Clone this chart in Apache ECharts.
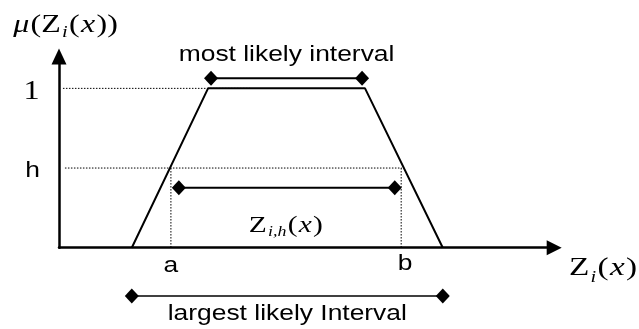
<!DOCTYPE html>
<html>
<head>
<meta charset="utf-8">
<script src="https://cdn.jsdelivr.net/npm/echarts@6/dist/echarts.min.js"></script>
<style>
  html, body {margin: 0; padding: 0; background: #fff;}
  #main {width: 639px; height: 329px;}
</style>
</head>
<body>
<div id="main"></div>
<script>
// trapezoidal membership function, x in 0..100, membership in 0..1.2
var trapX = [14.7, 30.1, 61.8, 77.5];
var trapY = [0, 1, 1, 0];
var hLevel = 0.5;
var cutX = [22.6, 69.1];          // a, b
var oneGuideX = [0.8, 38.6];      // dotted line at membership 1
var hGuideX = [1.2, 69.2];        // dotted line at h
var mostLikelyX = [30.7, 61.2];
var mostLikelyY = 1.063;
var alphaCutX = [24.2, 67.8];
var alphaCutY = 0.376;
var largestX = [14.7, 77.5];
var largestY = 0.5;

var serif = '"Liberation Serif", "Times New Roman", serif';
var sans = '"Liberation Sans", Arial, Helvetica, sans-serif';
var stretch = 1.28;   // the original figure is a bit wide
var sansStretch = 1.2;

function pts(xs, ys) {
    return xs.map(function (x, i) { return [x, ys[i]]; });
}

var dotted = {color: '#000', width: 1, type: [1.5, 1.5]};

var chart = echarts.init(document.getElementById('main'));
var option = {
    animation: false,
    backgroundColor: '#fff',
    grid: [
        {left: 59, top: 56.5, width: 495.2, height: 191.2},
        {left: 59, top: 286, width: 495.2, height: 20}
    ],
    xAxis: [
        {
            gridIndex: 0, type: 'value', min: 0, max: 100,
            axisLine: {lineStyle: {color: '#000', width: 2.5}, symbol: ['none', 'triangle'], symbolSize: [15, 15]},
            axisTick: {show: false}, axisLabel: {show: false}, splitLine: {show: false}
        },
        {
            gridIndex: 1, type: 'value', min: 0, max: 100, show: false
        }
    ],
    yAxis: [
        {
            gridIndex: 0, type: 'value', min: 0, max: 1.2,
            axisLine: {show: true, lineStyle: {color: '#000', width: 2.5}, symbol: ['none', 'triangle'], symbolSize: [15, 16]},
            axisTick: {show: false}, axisLabel: {show: false}, splitLine: {show: false}
        },
        {
            gridIndex: 1, type: 'value', min: 0, max: 1, show: false
        }
    ],
    series: [
        {
            name: 'membership', type: 'line', data: pts(trapX, trapY),
            symbol: 'none', lineStyle: {color: '#000', width: 2}, clip: false, z: 3
        },
        {
            name: 'one guide', type: 'line', symbol: 'none', lineStyle: dotted,
            data: pts(oneGuideX, [1, 1]), z: 2
        },
        {
            name: 'h guide', type: 'line', symbol: 'none', lineStyle: dotted,
            data: pts(hGuideX, [hLevel, hLevel]), z: 2
        },
        {
            name: 'a guide', type: 'line', symbol: 'none', lineStyle: dotted,
            data: pts([cutX[0], cutX[0]], [hLevel, 0]), z: 2
        },
        {
            name: 'b guide', type: 'line', symbol: 'none', lineStyle: dotted,
            data: pts([cutX[1], cutX[1]], [hLevel, 0]), z: 2
        },
        {
            name: 'most likely', type: 'line', data: pts(mostLikelyX, [mostLikelyY, mostLikelyY]),
            symbol: 'diamond', symbolSize: [14, 15], showSymbol: true,
            itemStyle: {color: '#000'}, lineStyle: {color: '#000', width: 2}, clip: false, z: 4
        },
        {
            name: 'alpha cut', type: 'line', data: pts(alphaCutX, [alphaCutY, alphaCutY]),
            symbol: 'diamond', symbolSize: [14, 15], showSymbol: true,
            itemStyle: {color: '#000'}, lineStyle: {color: '#000', width: 2}, z: 4
        },
        {
            name: 'largest', type: 'line', xAxisIndex: 1, yAxisIndex: 1,
            data: pts(largestX, [largestY, largestY]),
            symbol: 'diamond', symbolSize: [14, 15], showSymbol: true,
            itemStyle: {color: '#000'}, lineStyle: {color: '#000', width: 1.5}, clip: false, z: 4
        }
    ]
};
chart.setOption(option);

function px(x, y) {
    return chart.convertToPixel({gridIndex: 0}, [x, y]);
}
var pa = px(cutX[0], 0);
var pb = px(cutX[1], 0);
var pMost = px((mostLikelyX[0] + mostLikelyX[1]) / 2, mostLikelyY);
var pCut = px((alphaCutX[0] + alphaCutX[1]) / 2, alphaCutY);
var pLarge = chart.convertToPixel({gridIndex: 1}, [(largestX[0] + largestX[1]) / 2, largestY]);

function serifRich(size, drop) {
    return {
        n: {fontFamily: serif, fontSize: size, fill: '#000'},
        it: {fontFamily: serif, fontSize: size, fontStyle: 'italic', fill: '#000', padding: [0, 1, 0, 1]},
        sub: {fontFamily: serif, fontSize: Math.round(size * 0.62), fontStyle: 'italic', fill: '#000', padding: [drop * 2, 1, 0, 1]}
    };
}

function sansText(txt, x, y) {
    return {type: 'text', x: x, y: y, scaleX: sansStretch,
        style: {text: txt, fontFamily: sans, fontSize: 22, fill: '#000', align: 'center', verticalAlign: 'middle'}};
}

chart.setOption({
    graphic: [
        {type: 'text', x: 12, y: 25, scaleX: stretch,
            style: {text: '{it|μ}{n|(Z}{sub|i}{n|(}{it|x}{n|))}', rich: serifRich(25, 8), align: 'left', verticalAlign: 'middle'}},
        {type: 'text', x: 31.5, y: 92, scaleX: 1.15,
            style: {text: '1', fontFamily: serif, fontSize: 28, fill: '#000', align: 'center', verticalAlign: 'middle'}},
        sansText('h', 32.5, 171),
        sansText('most likely interval', pMost[0], pMost[1] - 23),
        {type: 'text', x: pCut[0] - 1, y: pCut[1] + 38, scaleX: stretch,
            style: {text: '{n|Z}{sub|i,h}{n|(}{it|x}{n|)}', rich: serifRich(23, 7), align: 'center', verticalAlign: 'middle'}},
        sansText('a', pa[0], pa[1] + 18),
        sansText('b', pb[0] + 4, pb[1] + 16),
        {type: 'text', x: 569, y: 268, scaleX: stretch,
            style: {text: '{n|Z}{sub|i}{n|(}{it|x}{n|)}', rich: serifRich(26, 10), align: 'left', verticalAlign: 'middle'}},
        sansText('largest likely Interval', pLarge[0], pLarge[1] + 18)
    ]
});
</script>
</body>
</html>
